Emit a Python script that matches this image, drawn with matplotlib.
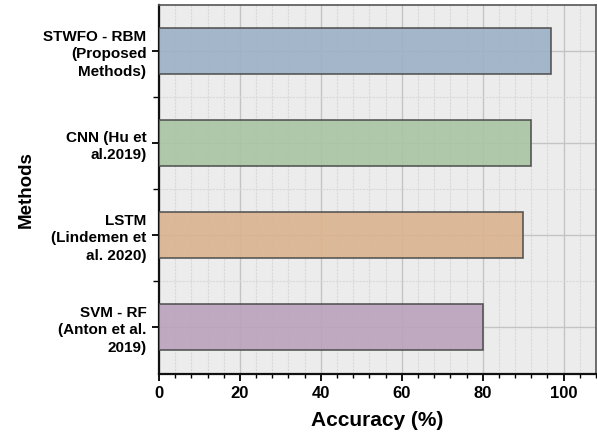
import matplotlib
matplotlib.use("Agg")
import matplotlib.pyplot as plt
from matplotlib.ticker import MultipleLocator, FixedLocator

# data (bottom to top)
methods = [
    "SVM - RF\n(Anton et al.\n2019)",
    "LSTM\n(Lindemen et\nal. 2020)",
    "CNN (Hu et\nal.2019)",
    "STWFO - RBM\n(Proposed\nMethods)",
]
accuracy = [80, 90, 92, 97]
colors = ["#b9a2bd", "#dab38e", "#a8c4a2", "#9cb1c7"]

plt.rcParams['font.family'] = ['Liberation Sans', 'DejaVu Sans']
plt.rcParams['font.weight'] = 'bold'

fig = plt.figure(figsize=(5.97, 4.36), dpi=100)
ax = fig.add_axes([0.2663, 0.1422, 0.732, 0.8463])
ax.set_facecolor("#ececec")

pos = list(range(len(methods)))
ax.barh(pos, accuracy, height=0.5, color=colors, edgecolor="#4a4a4a",
        linewidth=1.2, alpha=0.9, zorder=3)

ax.set_xlim(0, 108)
ax.set_ylim(-0.51, 3.5)

ax.xaxis.set_major_locator(MultipleLocator(20))
ax.xaxis.set_minor_locator(MultipleLocator(4))
ax.set_yticks(pos)
ax.set_yticklabels(methods, fontsize=11, fontweight='bold', linespacing=1.35)
ax.yaxis.set_minor_locator(FixedLocator([0.5, 1.5, 2.5]))

for lbl in ax.get_xticklabels():
    lbl.set_fontweight('bold')
ax.tick_params(axis='x', which='major', labelsize=12, length=5, width=1.3, direction='out')
ax.tick_params(axis='x', which='minor', length=3, width=1.0, direction='out')
ax.tick_params(axis='y', which='major', length=5, width=1.3, pad=4, direction='out')
ax.tick_params(axis='y', which='minor', length=4, width=1.0, direction='out')

ax.grid(True, which='major', color="#c4c4c4", linewidth=1.0, zorder=0)
ax.grid(True, which='minor', color="#d9d9d9", linewidth=0.8, linestyle=(0, (2, 1)), zorder=0)
ax.set_axisbelow(True)

for side in ['left', 'bottom']:
    ax.spines[side].set_linewidth(1.6)
    ax.spines[side].set_color("#111111")
for side in ['top', 'right']:
    ax.spines[side].set_linewidth(1.2)
    ax.spines[side].set_color("#555555")

ax.set_xlabel("Accuracy (%)", fontsize=15, fontweight='bold', labelpad=7)
ax.set_ylabel("Methods", fontsize=13.5, fontweight='bold', labelpad=6)

fig.savefig("out.png", dpi=100, facecolor="white")
